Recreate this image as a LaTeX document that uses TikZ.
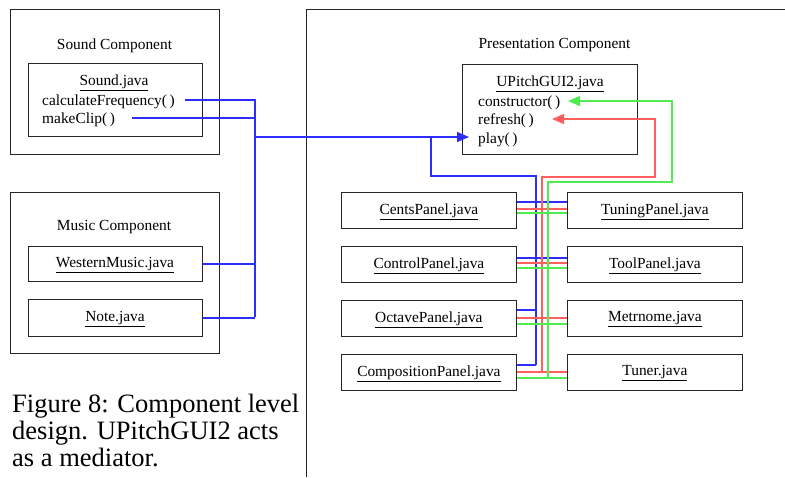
\documentclass[tikz,border=0pt]{standalone}
\usepackage{fontspec}
\setmainfont{Liberation Serif}
\usetikzlibrary{arrows.meta}
\definecolor{bl}{RGB}{45,45,255}
\definecolor{rd}{RGB}{255,95,95}
\definecolor{gr}{RGB}{80,235,80}
\begin{document}
\begin{tikzpicture}[x=1pt,y=-1pt,
  box/.style={draw=black!85,line width=0.8pt,inner sep=0pt,anchor=north west},
  txt/.style={inner sep=0pt,yshift=-1.5pt,font=\fontsize{15.4}{18}\selectfont},
  captxt/.style={inner sep=0pt,anchor=base west,font=\fontsize{26.5}{27}\selectfont},
  conn/.style={line width=1.3pt},
  arrtip/.style={-{Triangle[length=12pt,width=10pt]}},
  panel/.style={box,minimum width=175pt,minimum height=36pt}]
\useasboundingbox (0,0) rectangle (785,477);
\fill[white] (0,0) rectangle (785,477);

% Sound component
\node[box,minimum width=209pt,minimum height=145pt] (soundc) at (10,9) {};
\node[txt] (soundt) at (114.5,44) {Sound Component};
\node[box,minimum width=174pt,minimum height=73pt] (soundj) at (28,63) {};
\node[txt] (soundn) at (114,81) {\underline{Sound.java}};
\node[txt,anchor=west] (cf) at (42,100) {calculateFrequency(\,)};
\node[txt,anchor=west] (mc) at (42,118) {makeClip(\,)};

% Music component
\node[box,minimum width=209pt,minimum height=161pt] (musicc) at (10,192) {};
\node[txt] (musict) at (114,226) {Music Component};
\node[box,minimum width=174pt,minimum height=35pt] (wm) at (28,246) {};
\node[txt] (wmt) at (115,263.5) {\underline{WesternMusic.java}};
\node[box,minimum width=174pt,minimum height=37pt] (note) at (28,299) {};
\node[txt] (notet) at (115,317.5) {\underline{Note.java}};

% Presentation component
\draw[draw=black!85,line width=0.8pt] (306,477) -- (306,9) -- (785,9);
\node[txt] (prest) at (554.5,44) {Presentation Component};
\node[box,minimum width=175pt,minimum height=90pt] (gui) at (462,64) {};
\node[txt] (guit) at (550,82) {\underline{UPitchGUI2.java}};
\node[txt,anchor=west] (cons) at (478,101) {constructor(\,)};
\node[txt,anchor=west] (refr) at (478,119) {refresh(\,)};
\node[txt,anchor=west] (play) at (478,138) {play(\,)};

\node[panel] (cents) at (341,191.5) {};
\node[txt] at (cents.center) {\underline{CentsPanel.java}};
\node[panel] (control) at (341,245.5) {};
\node[txt] at (control.center) {\underline{ControlPanel.java}};
\node[panel] (octave) at (341,299.5) {};
\node[txt] at (octave.center) {\underline{OctavePanel.java}};
\node[panel] (comp) at (341,353.5) {};
\node[txt] at (comp.center) {\underline{CompositionPanel.java}};

\node[panel] (tuning) at (567,191.5) {};
\node[txt] at (tuning.center) {\underline{TuningPanel.java}};
\node[panel] (tool) at (567,245.5) {};
\node[txt] at (tool.center) {\underline{ToolPanel.java}};
\node[panel] (metro) at (567,299.5) {};
\node[txt] at (metro.center) {\underline{Metrnome.java}};
\node[panel] (tuner) at (567,353.5) {};
\node[txt] at (tuner.center) {\underline{Tuner.java}};

% caption
\node[captxt] (cap1) at (12,412) {Figure 8: Component level};
\node[captxt] (cap2) at (12,439) {design. UPitchGUI2 acts};
\node[captxt] (cap3) at (12,466) {as a mediator.};

% coordinates
\coordinate (cfS) at (185,100);
\coordinate (mcS) at (132,118);
\coordinate (jTop) at (255,100);
\coordinate (jBot) at (255,316.5);
\coordinate (jMain) at (255,137);
\coordinate (playTip) at (469,137);
\coordinate (bBr) at (431,137);
\coordinate (bB1) at (431,176);
\coordinate (bB2) at (536,176);
\coordinate (bB3) at (536,365);
\coordinate (rS) at (655,119);
\coordinate (rTip) at (552,119);
\coordinate (rB1) at (655,177);
\coordinate (rB2) at (542,177);
\coordinate (rB3) at (542,372);
\coordinate (gS) at (672,101);
\coordinate (gTip) at (568,101);
\coordinate (gB1) at (672,182);
\coordinate (gB2) at (548,182);
\coordinate (gB3) at (548,378);

% blue connectors
\draw[conn,bl] (cfS) -- (jTop) -- (jBot);
\draw[conn,bl] (mcS) -- (mcS -| jTop);
\draw[conn,bl] (wm.east) -- (wm.east -| jTop);
\draw[conn,bl] (note.east) -- (note.east -| jTop);
\draw[conn,bl,arrtip] (jMain) -- (playTip);
\draw[conn,bl] (bBr) -- (bB1) -- (bB2) -- (bB3);
\draw[conn,bl] (cents.east |- 0,202) -- (tuning.west |- 0,202);
\draw[conn,bl] (control.east |- 0,258) -- (tool.west |- 0,258);
\draw[conn,bl] (octave.east |- 0,310) -- (bB3 |- 0,310);
\draw[conn,bl] (comp.east |- bB3) -- (bB3);

% red connectors
\draw[conn,rd,arrtip] (rB3) -- (rB2) -- (rB1) -- (rS) -- (rTip);
\draw[conn,rd] (cents.east |- 0,209) -- (tuning.west |- 0,209);
\draw[conn,rd] (control.east |- 0,263) -- (tool.west |- 0,263);
\draw[conn,rd] (octave.east |- 0,318) -- (metro.west |- 0,318);
\draw[conn,rd] (comp.east |- 0,372) -- (tuner.west |- 0,372);

% green connectors
\draw[conn,gr,arrtip] (gB3) -- (gB2) -- (gB1) -- (gS) -- (gTip);
\draw[conn,gr] (cents.east |- 0,213) -- (tuning.west |- 0,213);
\draw[conn,gr] (control.east |- 0,268) -- (tool.west |- 0,268);
\draw[conn,gr] (octave.east |- 0,324) -- (metro.west |- 0,324);
\draw[conn,gr] (comp.east |- 0,378) -- (tuner.west |- 0,378);
\end{tikzpicture}
\end{document}
